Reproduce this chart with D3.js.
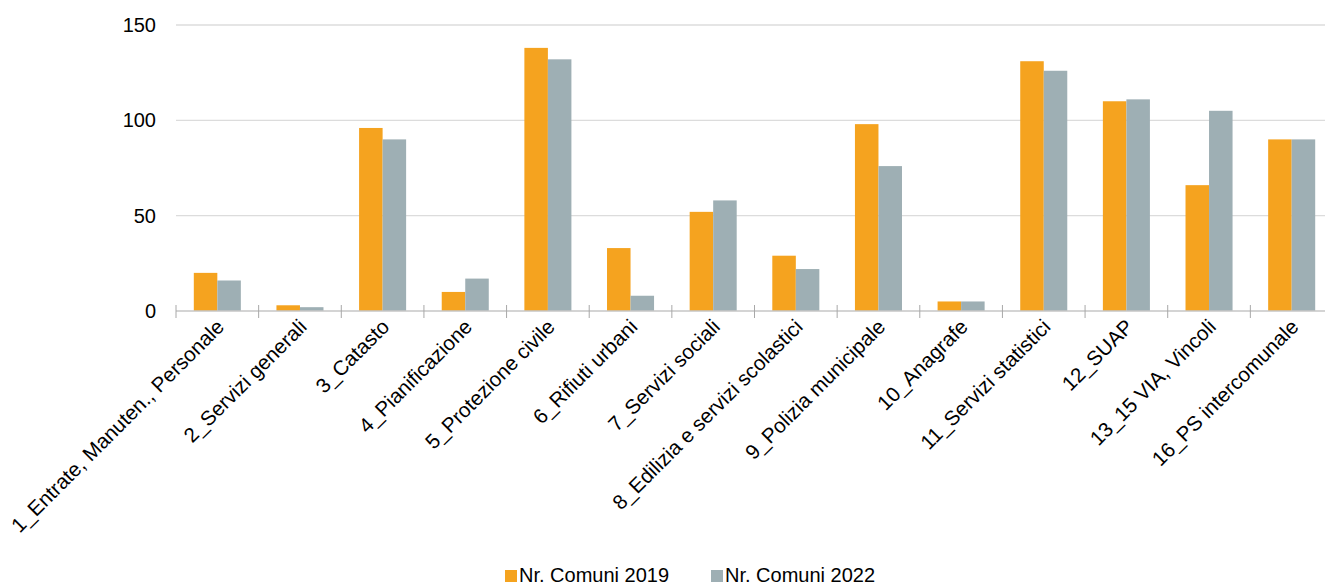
<!DOCTYPE html>
<html>
<head>
<meta charset="utf-8">
<script src="https://cdn.jsdelivr.net/npm/d3@7"></script>
<style>
  html, body { margin: 0; padding: 0; background: #ffffff; }
  svg { display: block; font-family: "Liberation Sans", Arial, sans-serif; }
</style>
</head>
<body>
<svg id="chart" width="1325" height="587"></svg>
<script>
const categories = [
  "1_Entrate, Manuten., Personale",
  "2_Servizi generali",
  "3_Catasto",
  "4_Pianificazione",
  "5_Protezione civile",
  "6_Rifiuti urbani",
  "7_Servizi sociali",
  "8_Edilizia e servizi scolastici",
  "9_Polizia municipale",
  "10_Anagrafe",
  "11_Servizi statistici",
  "12_SUAP",
  "13_15 VIA, Vincoli",
  "16_PS intercomunale"
];
const seriesNames = ["Nr. Comuni 2019", "Nr. Comuni 2022"];
const values2019 = [20, 3, 96, 10, 138, 33, 52, 29, 98, 5, 131, 110, 66, 90];
const values2022 = [16, 2, 90, 17, 132, 8, 58, 22, 76, 5, 126, 111, 105, 90];
const yTicks = [0, 50, 100, 150];
const colors = ["#F5A31F", "#9EAFB4"];

const svg = d3.select("#chart");
const plotLeft = 176, plotRight = 1333, plotTop = 25, plotBottom = 311;

const x0 = d3.scaleBand().domain(categories).range([plotLeft, plotRight]).paddingInner(0).paddingOuter(0);
const x1 = d3.scaleBand().domain(seriesNames).range([0, x0.bandwidth()]).paddingInner(0).paddingOuter(0.757);
const y = d3.scaleLinear().domain([0, 150]).range([plotBottom, plotTop]);

// gridlines
svg.append("g")
  .selectAll("line")
  .data(yTicks.filter(d => d > 0))
  .join("line")
  .attr("x1", plotLeft).attr("x2", 1325)
  .attr("y1", d => y(d)).attr("y2", d => y(d))
  .attr("stroke", "#DCDCDC").attr("stroke-width", 1.3);

// y labels
const yAxis = d3.axisLeft(y).tickValues(yTicks).tickSize(0).tickPadding(20);
const gy = svg.append("g").attr("transform", `translate(${plotLeft},0)`).call(yAxis);
gy.select(".domain").remove();
gy.selectAll("text").attr("font-size", 20).attr("fill", "#000").attr("font-family", "Liberation Sans, Arial, sans-serif");

// bars
const data = categories.map((c, i) => ({ c, vals: [values2019[i], values2022[i]] }));
const groups = svg.append("g").selectAll("g").data(data).join("g")
  .attr("transform", d => `translate(${x0(d.c)},0)`);
groups.selectAll("rect")
  .data(d => d.vals.map((v, k) => ({ k, v })))
  .join("rect")
  .attr("x", d => x1(seriesNames[d.k]))
  .attr("width", x1.bandwidth())
  .attr("y", d => y(d.v))
  .attr("height", d => y(0) - y(d.v))
  .attr("fill", d => colors[d.k]);

// x axis line and ticks between categories
svg.append("line")
  .attr("x1", plotLeft).attr("x2", 1325)
  .attr("y1", plotBottom).attr("y2", plotBottom)
  .attr("stroke", "#C6C6C6").attr("stroke-width", 1.6);
const tickPos = categories.map(c => x0(c));
svg.append("g").selectAll("line").data(tickPos).join("line")
  .attr("x1", d => d).attr("x2", d => d)
  .attr("y1", plotBottom - 6).attr("y2", plotBottom + 7)
  .attr("stroke", "#A8A8A8").attr("stroke-width", 1);

// category labels
svg.append("g").selectAll("text").data(categories).join("text")
  .attr("transform", c => `translate(${x0(c) + x0.bandwidth() / 2 + 3},${plotBottom + 12}) rotate(-45)`)
  .attr("text-anchor", "end")
  .attr("dy", "0.35em")
  .attr("font-size", 20.6)
  .attr("fill", "#000")
  .text(c => c);

// legend
const legendX = [505, 711];
const lg = svg.append("g").selectAll("g").data(seriesNames).join("g")
  .attr("transform", (d, i) => `translate(${legendX[i]},570)`);
lg.append("rect").attr("width", 12).attr("height", 12).attr("fill", (d, i) => colors[i]);
lg.append("text").attr("x", 14).attr("y", 12).attr("font-size", 20).attr("fill", "#000").text(d => d);
</script>
</body>
</html>
